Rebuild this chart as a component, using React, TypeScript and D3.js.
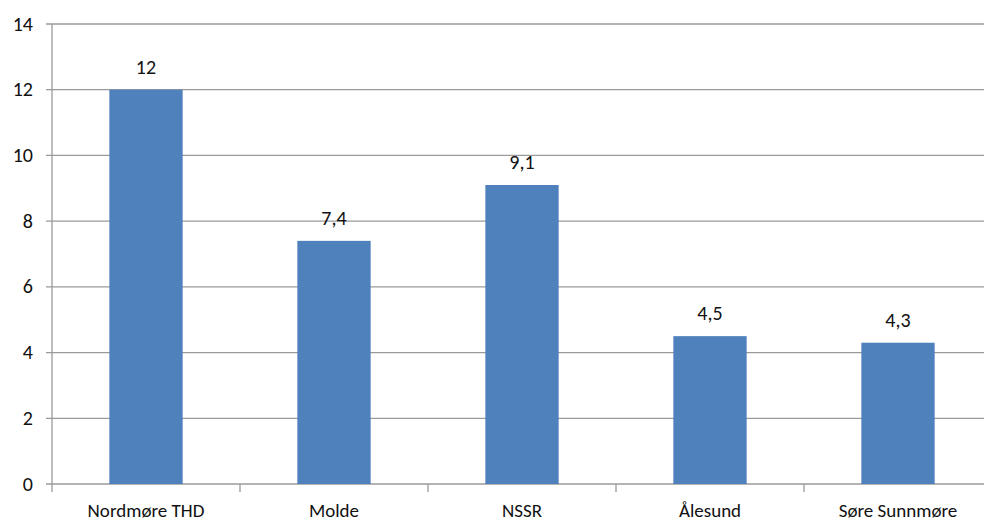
import * as React from 'react';
import * as d3 from 'd3';

const CATEGORIES = ['Nordmøre THD', 'Molde', 'NSSR', 'Ålesund', 'Søre Sunnmøre'];
const VALUES = [12, 7.4, 9.1, 4.5, 4.3];
const VALUE_LABELS = ['12', '7,4', '9,1', '4,5', '4,3'];
const Y_TICKS = [0, 2, 4, 6, 8, 10, 12, 14];

const WIDTH = 984;
const HEIGHT = 525;
const MARGIN = { top: 24, right: -8, bottom: 41, left: 52 };
const FONT = 'Carlito, "Open Sans", "Noto Sans", sans-serif';

const App: React.FC = () => {
    const svgRef = React.useRef<SVGSVGElement>(null);

    React.useEffect(() => {
        const svg = d3.select(svgRef.current);
        svg.selectAll('*').remove();

        const innerWidth = WIDTH - MARGIN.left - MARGIN.right;
        const innerHeight = HEIGHT - MARGIN.top - MARGIN.bottom;

        const g = svg.append('g').attr('transform', `translate(${MARGIN.left},${MARGIN.top})`);

        const xScale = d3.scaleBand<string>().domain(CATEGORIES).range([0, innerWidth]).paddingInner(0.61).paddingOuter(0.305);
        const yScale = d3.scaleLinear().domain([0, 14]).range([innerHeight, 0]);

        // gridlines
        g.append('g')
            .selectAll('line')
            .data(Y_TICKS)
            .enter()
            .append('line')
            .attr('x1', -6)
            .attr('x2', innerWidth)
            .attr('y1', d => yScale(d))
            .attr('y2', d => yScale(d))
            .attr('stroke', '#9a9a9a')
            .attr('stroke-width', 1.3);

        // y axis labels
        g.append('g')
            .selectAll('text')
            .data(Y_TICKS)
            .enter()
            .append('text')
            .attr('x', -19)
            .attr('y', d => yScale(d))
            .attr('dy', '0.33em')
            .attr('text-anchor', 'end')
            .attr('font-family', FONT)
            .attr('font-size', 20)
            .attr('fill', '#111')
            .text(d => String(d));

        // y axis line
        g.append('line')
            .attr('x1', 0)
            .attr('x2', 0)
            .attr('y1', 0)
            .attr('y2', innerHeight)
            .attr('stroke', '#9a9a9a')
            .attr('stroke-width', 1.3);

        // x category ticks
        const step = xScale.step();
        g.append('g')
            .selectAll('line')
            .data(d3.range(CATEGORIES.length + 1))
            .enter()
            .append('line')
            .attr('x1', i => i * step)
            .attr('x2', i => i * step)
            .attr('y1', innerHeight)
            .attr('y2', innerHeight + 8)
            .attr('stroke', '#9a9a9a')
            .attr('stroke-width', 1.3);

        // bars
        g.append('g')
            .selectAll('rect')
            .data(VALUES)
            .enter()
            .append('rect')
            .attr('x', (_, i) => xScale(CATEGORIES[i])!)
            .attr('width', xScale.bandwidth())
            .attr('y', d => yScale(d))
            .attr('height', d => innerHeight - yScale(d))
            .attr('fill', '#4f81bd');

        // value labels
        g.append('g')
            .selectAll('text')
            .data(VALUES)
            .enter()
            .append('text')
            .attr('x', (_, i) => xScale(CATEGORIES[i])! + xScale.bandwidth() / 2)
            .attr('y', d => yScale(d) - 16)
            .attr('text-anchor', 'middle')
            .attr('font-family', FONT)
            .attr('font-size', 20)
            .attr('fill', '#111')
            .text((_, i) => VALUE_LABELS[i]);

        // category labels
        g.append('g')
            .selectAll('text')
            .data(CATEGORIES)
            .enter()
            .append('text')
            .attr('x', d => xScale(d)! + xScale.bandwidth() / 2)
            .attr('y', innerHeight + 33)
            .attr('text-anchor', 'middle')
            .attr('font-family', FONT)
            .attr('font-size', 19)
            .attr('fill', '#111')
            .text(d => d);
    }, []);

    return (
        <svg
            ref={svgRef}
            width={WIDTH}
            height={HEIGHT}
            style={{ position: 'absolute', left: 0, top: 0, background: '#fff' }}
        />
    );
};

export default App;
